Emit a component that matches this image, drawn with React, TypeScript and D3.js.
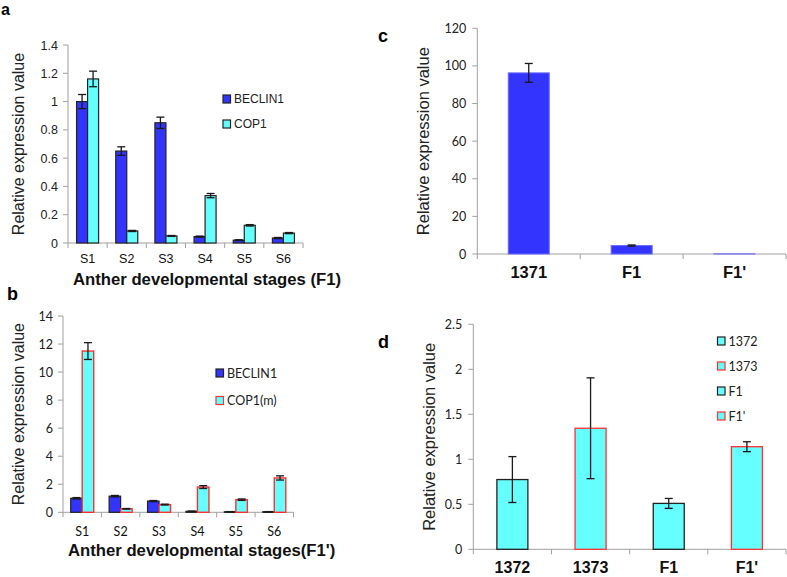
import React from "react";
import * as d3 from "d3";

// ---------- Data ----------
const stages = ["S1", "S2", "S3", "S4", "S5", "S6"];

const beclinA = [1.0, 0.65, 0.85, 0.045, 0.02, 0.035];
const beclinAErr = [0.05, 0.03, 0.04, 0.004, 0.003, 0.004];
const cop1A = [1.16, 0.085, 0.05, 0.335, 0.125, 0.07];
const cop1AErr = [0.055, 0.004, 0.003, 0.015, 0.005, 0.004];
const ticksA = [0, 0.2, 0.4, 0.6, 0.8, 1, 1.2, 1.4];

const beclinB = [1.0, 1.15, 0.8, 0.07, 0.04, 0.04];
const beclinBErr = [0.05, 0.05, 0.04, 0.01, 0.01, 0.01];
const cop1mB = [11.5, 0.25, 0.55, 1.8, 0.9, 2.45];
const cop1mBErr = [0.6, 0.02, 0.03, 0.1, 0.05, 0.15];
const ticksB = [0, 2, 4, 6, 8, 10, 12, 14];

const catsC = ["1371", "F1", "F1'"];
const valsC = [96.3, 4.5, 0.05];
const errC = [5.0, 0.3, 0.0];
const ticksC = [0, 20, 40, 60, 80, 100, 120];

const catsD = ["1372", "1373", "F1", "F1'"];
const valsD = [0.775, 1.345, 0.51, 1.14];
const errD = [0.255, 0.56, 0.055, 0.055];
const ticksD = [0, 0.5, 1, 1.5, 2, 2.5];
const legendD = ["1372", "1373", "F1", "F1'"];

const BLUE = "#3434FF";
const CYAN = "#66FFFF";
const DARK = "#222";
const RED = "#FF3030";
const AXIS = "#a0a0a0";

const ARIAL = "'Liberation Sans', Arial, sans-serif";
const CAL = "Lato, 'Open Sans', sans-serif";

type Series = { values: number[]; errs: number[]; fill: string; stroke: string | string[]; strokeWidth?: number };

type PanelProps = {
  cats: string[];
  series: Series[];
  x0: number; x1: number; yTop: number; yBot: number;
  max: number; ticks: number[];
  barW: number;
  tickFont: string; tickSize: number; tickGap: number;
  catFont: string; catSize: number; catWeight: string; catY: number;
  yLabelX: number; yLabelSize: number;
};

function fmt(v: number) {
  return String(+v.toFixed(2));
}

function Panel(p: PanelProps) {
  const x = d3.scaleBand<string>().domain(p.cats).range([p.x0, p.x1]).padding(0);
  const y = d3.scaleLinear().domain([0, p.max]).range([p.yBot, p.yTop]);
  const n = p.series.length;
  const bounds = [...p.cats.map((c) => x(c)!), p.x1];
  const yMid = (p.yTop + p.yBot) / 2;
  return (
    <g>
      <line x1={p.x0} x2={p.x0} y1={p.yTop} y2={p.yBot} stroke={AXIS} strokeWidth={1} />
      <line x1={p.x0} x2={p.x1} y1={p.yBot} y2={p.yBot} stroke={AXIS} strokeWidth={1} />
      {p.ticks.map((t) => (
        <g key={"t" + t}>
          <line x1={p.x0 - 5} x2={p.x0} y1={y(t)} y2={y(t)} stroke={AXIS} />
          <text x={p.x0 - p.tickGap} y={y(t)} dy="0.36em" textAnchor="end" fontFamily={p.tickFont} fontSize={p.tickSize} fill="#222">
            {fmt(t)}
          </text>
        </g>
      ))}
      {bounds.map((b, i) => (
        <line key={"xb" + i} x1={b} x2={b} y1={p.yBot} y2={p.yBot + 5} stroke={AXIS} />
      ))}
      {p.cats.map((c, ci) => {
        const cx = x(c)! + x.bandwidth() / 2;
        return (
          <g key={c}>
            {p.series.map((s, si) => {
              const left = cx - (n * p.barW) / 2 + si * p.barW;
              const v = s.values[ci];
              const e = s.errs[ci];
              const stroke = Array.isArray(s.stroke) ? s.stroke[ci] : s.stroke;
              const bx = left + p.barW / 2;
              return (
                <g key={si}>
                  <rect x={left} y={y(v)} width={p.barW} height={Math.max(0, y(0) - y(v))} fill={s.fill} stroke={stroke} strokeWidth={s.strokeWidth ?? 1.2} />
                  {e > 0 && (
                    <g stroke="#1a1a1a" strokeWidth={1.3}>
                      <line x1={bx} x2={bx} y1={y(v + e)} y2={y(v - e)} />
                      <line x1={bx - 4} x2={bx + 4} y1={y(v + e)} y2={y(v + e)} />
                      <line x1={bx - 4} x2={bx + 4} y1={y(v - e)} y2={y(v - e)} />
                    </g>
                  )}
                </g>
              );
            })}
            <text x={cx} y={p.catY} textAnchor="middle" fontFamily={p.catFont} fontSize={p.catSize} fontWeight={p.catWeight} fill="#111">
              {c}
            </text>
          </g>
        );
      })}
      <text transform={`translate(${p.yLabelX},${yMid}) rotate(-90)`} textAnchor="middle" dy="0.35em" fontFamily={ARIAL} fontSize={p.yLabelSize} fill="#222">
        Relative expression value
      </text>
    </g>
  );
}

function Legend({ x, y, items, gap, font, size }: { x: number; y: number; items: { label: string; stroke: string }[]; gap: number; font: string; size: number }) {
  return (
    <g>
      {items.map((it, i) => (
        <g key={it.label} transform={`translate(${x},${y + i * gap})`}>
          <rect x={0} y={-4} width={7.5} height={8} fill={it.label === "BECLIN1" ? BLUE : CYAN} stroke={it.stroke} strokeWidth={1.2} />
          <text x={11} y={0} dy="0.36em" fontFamily={font} fontSize={size} fill="#222">
            {it.label}
          </text>
        </g>
      ))}
    </g>
  );
}

export default function App() {
  return (
    <svg width={787} height={577} style={{ position: "absolute", left: 0, top: 0, background: "#fff" }}>
      <rect width={787} height={577} fill="#fff" />
      <text x={1} y={14.5} fontFamily={ARIAL} fontWeight="bold" fontSize={16} fill="#000">a</text>
      <text x={7} y={300} fontFamily={ARIAL} fontWeight="bold" fontSize={18} fill="#000">b</text>
      <text x={378} y={42} fontFamily={ARIAL} fontWeight="bold" fontSize={18} fill="#000">c</text>
      <text x={378} y={348} fontFamily={ARIAL} fontWeight="bold" fontSize={18} fill="#000">d</text>

      {/* Panel a */}
      <Panel
        cats={stages}
        series={[
          { values: beclinA, errs: beclinAErr, fill: BLUE, stroke: DARK },
          { values: cop1A, errs: cop1AErr, fill: CYAN, stroke: DARK },
        ]}
        x0={68} x1={303} yTop={45} yBot={243} max={1.4} ticks={ticksA} barW={11}
        tickFont={ARIAL} tickSize={12.5} tickGap={10}
        catFont={ARIAL} catSize={12.5} catWeight="normal" catY={263}
        yLabelX={18} yLabelSize={16}
      />
      <Legend x={223} y={99} gap={25} font={ARIAL} size={12}
        items={[{ label: "BECLIN1", stroke: DARK }, { label: "COP1", stroke: DARK }]} />
      <text x={73} y={285} fontFamily={ARIAL} fontWeight="bold" fontSize={16.7} fill="#111">Anther developmental stages (F1)</text>

      {/* Panel b */}
      <Panel
        cats={stages}
        series={[
          { values: beclinB, errs: beclinBErr, fill: BLUE, stroke: DARK },
          { values: cop1mB, errs: cop1mBErr, fill: CYAN, stroke: RED, strokeWidth: 1.4 },
        ]}
        x0={63} x1={293.5} yTop={316} yBot={512.3} max={14} ticks={ticksB} barW={11.5}
        tickFont={CAL} tickSize={12.5} tickGap={10}
        catFont={CAL} catSize={12.5} catWeight="normal" catY={536}
        yLabelX={18} yLabelSize={16}
      />
      <Legend x={216} y={373} gap={27.5} font={CAL} size={12.5}
        items={[{ label: "BECLIN1", stroke: DARK }, { label: "COP1(m)", stroke: RED }]} />
      <text x={68} y={556} fontFamily={ARIAL} fontWeight="bold" fontSize={16.7} fill="#111">Anther developmental stages(F1')</text>

      {/* Panel c */}
      <Panel
        cats={catsC}
        series={[{ values: valsC, errs: errC, fill: BLUE, stroke: "#6b6bff", strokeWidth: 1 }]}
        x0={477.3} x1={786} yTop={28.3} yBot={254} max={120} ticks={ticksC} barW={41}
        tickFont={CAL} tickSize={12.5} tickGap={11}
        catFont={ARIAL} catSize={16.5} catWeight="bold" catY={278}
        yLabelX={423.5} yLabelSize={16.5}
      />

      {/* Panel d */}
      <Panel
        cats={catsD}
        series={[{ values: valsD, errs: errD, fill: CYAN, stroke: [DARK, RED, DARK, RED], strokeWidth: 1.3 }]}
        x0={473.3} x1={786} yTop={324.3} yBot={549.3} max={2.5} ticks={ticksD} barW={31}
        tickFont={CAL} tickSize={12.5} tickGap={11}
        catFont={ARIAL} catSize={16} catWeight="bold" catY={572.5}
        yLabelX={429.5} yLabelSize={16.5}
      />
      <Legend x={717.5} y={341} gap={25} font={CAL} size={12.5}
        items={legendD.map((l, i) => ({ label: l, stroke: i % 2 === 0 ? DARK : RED }))} />
    </svg>
  );
}
